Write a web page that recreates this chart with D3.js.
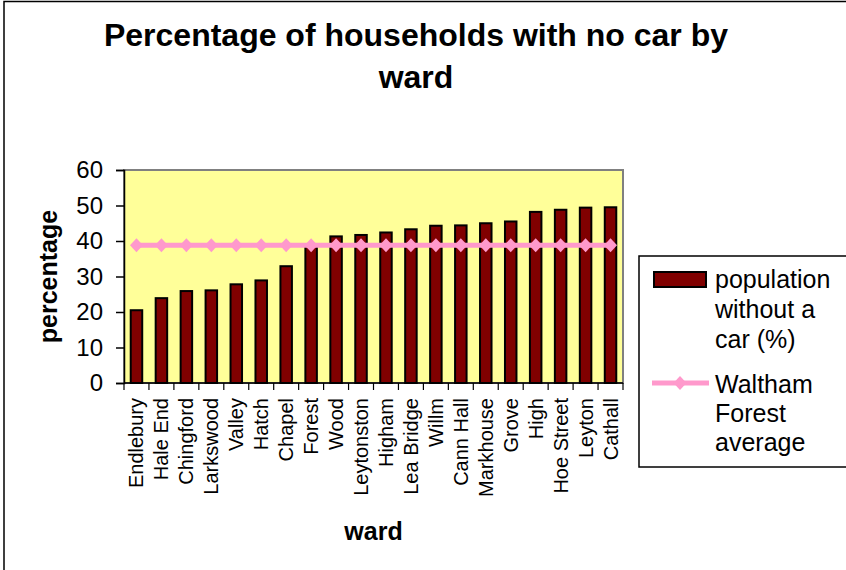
<!DOCTYPE html>
<html>
<head>
<meta charset="utf-8">
<script src="https://cdn.jsdelivr.net/npm/d3@7"></script>
<style>
  body { margin: 0; background: #fff; }
  text { font-family: "Liberation Sans", Arial, sans-serif; fill: #000; }
</style>
</head>
<body>
<script>
// DATA ==============================================================
var wards = ["Endlebury", "Hale End", "Chingford", "Larkswood", "Valley", "Hatch", "Chapel", "Forest", "Wood", "Leytonston",
             "Higham", "Lea Bridge", "Willm", "Cann Hall", "Markhouse", "Grove", "High", "Hoe Street", "Leyton", "Cathall"];
var noCar = [20.5, 23.9, 25.9, 26.1, 27.8, 28.9, 32.9, 39.0, 41.3, 41.7,
             42.4, 43.3, 44.3, 44.4, 45.0, 45.5, 48.2, 48.8, 49.4, 49.5];
var average = 38.8; // Waltham Forest average, same for every ward
var yTicks = [0, 10, 20, 30, 40, 50, 60];
var seriesNames = [["population", "without a", "car (%)"], ["Waltham", "Forest", "average"]];
// ==================================================================

var width = 846, height = 570;
var plot = { left: 124, right: 623, top: 170, bottom: 383 };

var svg = d3.select("body").append("svg")
    .attr("width", width)
    .attr("height", height);

// outer chart border
svg.append("rect")
  .attr("x", 4).attr("y", 1.5)
  .attr("width", 1000).attr("height", 1000)
  .attr("fill", "none").attr("stroke", "#000").attr("stroke-width", 1.5);

var x = d3.scaleBand()
    .domain(wards)
    .range([plot.left, plot.right]);

var y = d3.scaleLinear()
    .domain([0, 60])
    .range([plot.bottom, plot.top]);

// plot area
svg.append("rect")
  .attr("x", plot.left).attr("y", plot.top)
  .attr("width", plot.right - plot.left).attr("height", plot.bottom - plot.top)
  .attr("fill", "#ffff99")
  .attr("stroke", "#808080").attr("stroke-width", 2);

// bars
var barW = 11.5;
svg.selectAll("rect.bar")
    .data(noCar)
  .enter().append("rect")
    .attr("class", "bar")
    .attr("x", (d, i) => x(wards[i]) + x.bandwidth() / 2 - barW / 2)
    .attr("y", d => y(d))
    .attr("width", barW)
    .attr("height", d => y(0) - y(d))
    .attr("fill", "#800000")
    .attr("stroke", "#000")
    .attr("stroke-width", 2);

// axes
var yAxis = d3.axisLeft(y).tickValues(yTicks).tickSize(8).tickPadding(13);
var gy = svg.append("g")
  .attr("transform", "translate(" + plot.left + ",0)")
  .call(yAxis);
gy.select(".domain").attr("stroke", "#000").attr("stroke-width", 1.5);
gy.selectAll(".tick line").attr("stroke", "#000").attr("stroke-width", 1.5);
gy.selectAll("text").attr("font-size", "24px").attr("font-family", "Liberation Sans, Arial, sans-serif");

var gx = svg.append("g")
  .attr("transform", "translate(0," + plot.bottom + ")");
gx.append("line")
  .attr("x1", plot.left).attr("x2", plot.right)
  .attr("stroke", "#000").attr("stroke-width", 1.5);
gx.selectAll("line.tk")
    .data(wards.concat(["end"]))
  .enter().append("line")
    .attr("class", "tk")
    .attr("x1", (d, i) => plot.left + i * x.step())
    .attr("x2", (d, i) => plot.left + i * x.step())
    .attr("y1", 0).attr("y2", 7)
    .attr("stroke", "#000").attr("stroke-width", 1.2);
gx.selectAll("text")
    .data(wards)
  .enter().append("text")
    .attr("transform", d => "translate(" + (x(d) + x.bandwidth() / 2) + ",15) rotate(-90)")
    .attr("text-anchor", "end")
    .attr("dy", "0.35em")
    .attr("font-size", "20px")
    .text(d => d);

// average line
var line = d3.line()
    .x((d, i) => x(wards[i]) + x.bandwidth() / 2)
    .y(d => y(d));
var avgData = wards.map(() => average);

svg.append("path")
  .datum(avgData)
  .attr("d", line)
  .attr("fill", "none")
  .attr("stroke", "#ff99cc")
  .attr("stroke-width", 5);

var diamond = "M0,-7L6.5,0L0,7L-6.5,0Z";
svg.selectAll("path.mk")
    .data(avgData)
  .enter().append("path")
    .attr("class", "mk")
    .attr("transform", (d, i) => "translate(" + (x(wards[i]) + x.bandwidth() / 2) + "," + y(d) + ")")
    .attr("d", diamond)
    .attr("fill", "#ff99cc");

// titles
var title = svg.append("text")
  .attr("text-anchor", "middle")
  .attr("font-size", "32px")
  .attr("font-weight", "bold");
title.append("tspan").attr("x", 416).attr("y", 46).text("Percentage of households with no car by");
title.append("tspan").attr("x", 416).attr("y", 88).text("ward");

svg.append("text")
  .attr("x", (plot.left + plot.right) / 2)
  .attr("y", 540)
  .attr("text-anchor", "middle")
  .attr("font-size", "25px")
  .attr("font-weight", "bold")
  .text("ward");

svg.append("text")
  .attr("transform", "translate(57," + (plot.top + plot.bottom) / 2 + ") rotate(-90)")
  .attr("text-anchor", "middle")
  .attr("font-size", "25px")
  .attr("font-weight", "bold")
  .text("percentage");

// legend
var lg = svg.append("g");
lg.append("rect")
  .attr("x", 639).attr("y", 256)
  .attr("width", 400).attr("height", 211)
  .attr("fill", "#fff").attr("stroke", "#000").attr("stroke-width", 1.5);
lg.append("rect")
  .attr("x", 654).attr("y", 272)
  .attr("width", 52).attr("height", 15)
  .attr("fill", "#800000").attr("stroke", "#000").attr("stroke-width", 2);
lg.append("line")
  .attr("x1", 652).attr("x2", 709)
  .attr("y1", 383).attr("y2", 383)
  .attr("stroke", "#ff99cc").attr("stroke-width", 5);
lg.append("path")
  .attr("transform", "translate(680,383)")
  .attr("d", diamond)
  .attr("fill", "#ff99cc");

var lgY = [[288, 318, 348], [393, 422, 451]];
seriesNames.forEach((lines, s) => {
  lines.forEach((t, k) => {
    lg.append("text")
      .attr("x", 715).attr("y", lgY[s][k])
      .attr("font-size", "25px")
      .text(t);
  });
});
</script>
</body>
</html>
